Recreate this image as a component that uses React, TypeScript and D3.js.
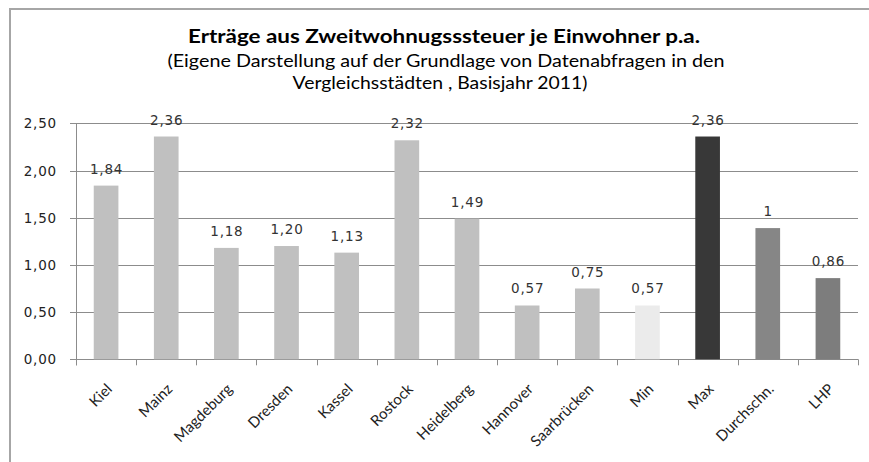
import React from "react";
import * as d3 from "d3";

const categories = ["Kiel", "Mainz", "Magdeburg", "Dresden", "Kassel", "Rostock", "Heidelberg", "Hannover", "Saarbrücken", "Min", "Max", "Durchschn.", "LHP"];
const values = [1.84, 2.36, 1.18, 1.2, 1.13, 2.32, 1.49, 0.57, 0.75, 0.57, 2.36, 1.39, 0.86];
const valueLabels = ["1,84", "2,36", "1,18", "1,20", "1,13", "2,32", "1,49", "0,57", "0,75", "0,57", "2,36", "1", "0,86"];
const barColors = ["#c0c0c0", "#c0c0c0", "#c0c0c0", "#c0c0c0", "#c0c0c0", "#c0c0c0", "#c0c0c0", "#c0c0c0", "#c0c0c0", "#ebebeb", "#383838", "#868686", "#7d7d7d"];
const yTicks = [0, 0.5, 1, 1.5, 2, 2.5];

const title = "Erträge aus Zweitwohnugsssteuer je Einwohner p.a.";
const subtitle = ["(Eigene Darstellung auf der Grundlage von Datenabfragen in den", "Vergleichsstädten , Basisjahr 2011)"];

const W = 869;
const H = 462;
const left = 76;
const right = 858;
const top = 123.3;
const bottom = 359.3;

const App = () => {
  const x = d3.scaleBand().domain(categories).range([left, right]).paddingInner(0.59).paddingOuter(0.295);
  const y = d3.scaleLinear().domain([0, 2.5]).range([bottom, top]);
  const step = x.step();
  const fmt = (d: number) => d3.format(".2f")(d).replace(".", ",");
  const gridColor = "#8c8c8c";

  return (
    <svg width={W} height={H} style={{ position: "absolute", left: 0, top: 0 }}>
      <rect x={0} y={0} width={W} height={H} fill="#fff" />
      <rect x={10} y={9} width={W + 20} height={H + 20} fill="none" stroke="#a6a6a6" strokeWidth={2} />

      <text x={444} y={43} textAnchor="middle" fontFamily="Lato, 'Open Sans', sans-serif" fontWeight="bold" fontSize={18.5} textLength={512} lengthAdjust="spacingAndGlyphs" fill="#000">{title}</text>
      <text x={446} y={67} textAnchor="middle" fontFamily="Lato, 'Open Sans', sans-serif" fontSize={17} textLength={557} lengthAdjust="spacingAndGlyphs" fill="#000">{subtitle[0]}</text>
      <text x={440} y={89} textAnchor="middle" fontFamily="Lato, 'Open Sans', sans-serif" fontSize={17} textLength={295} lengthAdjust="spacingAndGlyphs" fill="#000">{subtitle[1]}</text>

      {yTicks.map((t) => (
        <g key={t}>
          <line x1={70} x2={right} y1={Math.round(y(t)) + 0.5} y2={Math.round(y(t)) + 0.5} stroke={gridColor} strokeWidth={1} />
          <text x={57} y={y(t) + 5} textAnchor="end" fontFamily="'DejaVu Sans', Verdana, sans-serif" fontSize={13.5} letterSpacing={0.8} fill="#222">{fmt(t)}</text>
        </g>
      ))}

      <line x1={left + 0.5} x2={left + 0.5} y1={top} y2={bottom + 6} stroke={gridColor} />
      {d3.range(categories.length + 1).map((i) => (
        <line key={i} x1={Math.round(left + i * step) + 0.5} x2={Math.round(left + i * step) + 0.5} y1={bottom} y2={bottom + 6} stroke={gridColor} />
      ))}

      {categories.map((c, i) => (
        <rect key={c} x={x(c)} y={y(values[i])} width={x.bandwidth()} height={bottom - y(values[i])} fill={barColors[i]} />
      ))}

      {categories.map((c, i) => (
        <text key={c} x={(x(c) as number) + x.bandwidth() / 2 + 0.5} y={y(values[i]) - 12} textAnchor="middle" fontFamily="'DejaVu Sans', Verdana, sans-serif" fontSize={13.5} letterSpacing={0.8} fill="#333">{valueLabels[i]}</text>
      ))}

      {categories.map((c) => {
        const cx = (x(c) as number) + x.bandwidth() / 2;
        return (
          <text key={c} transform={`translate(${cx + 7},${390}) rotate(-45)`} textAnchor="end" fontFamily="Lato, 'Open Sans', sans-serif" fontSize={15} fill="#222">{c}</text>
        );
      })}
    </svg>
  );
};

export default App;
